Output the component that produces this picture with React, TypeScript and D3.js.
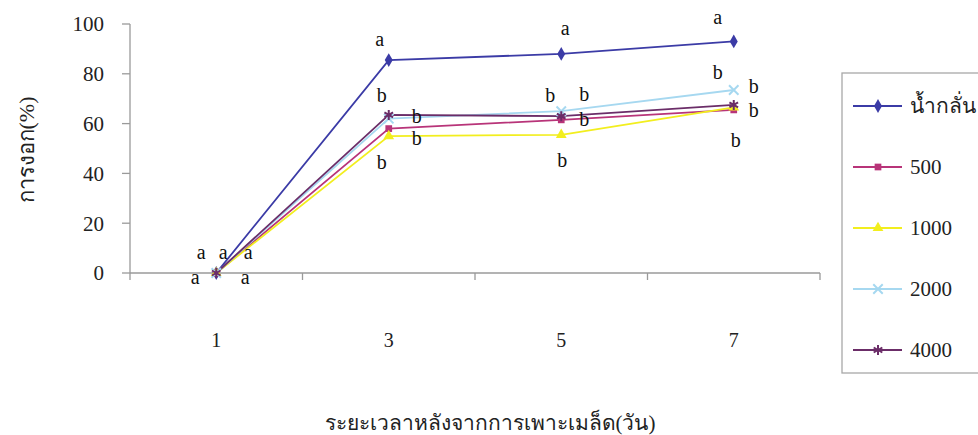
import React from "react";
import * as d3 from "d3";

const days = ["1", "3", "5", "7"];
const seriesNames = ["น้ำกลั่น", "500", "1000", "2000", "4000"];
const water = [0, 85.5, 88, 93];
const c500 = [0, 58, 61.5, 65.5];
const c1000 = [0, 55, 55.5, 66.5];
const c2000 = [0, 62, 65, 73.5];
const c4000 = [0, 63.5, 63, 67.5];
const seriesValues = [water, c500, c1000, c2000, c4000];
const yTicks = [0, 20, 40, 60, 80, 100];
// significance letters per series per day
const lettersWater = ["a", "a", "a", "a"];
const letters500 = ["a", "b", "b", "b"];
const letters1000 = ["a", "b", "b", "b"];
const letters2000 = ["a", "b", "b", "b"];
const letters4000 = ["a", "b", "b", "b"];
const seriesLetters = [lettersWater, letters500, letters1000, letters2000, letters4000];
const yTitle = "การงอก(%)";
const xTitle = "ระยะเวลาหลังจากการเพาะเมล็ด(วัน)";

// layout (offsets of letters from their points)
const letterOffsets: [number, number][][] = [
  [[-15, -21], [-9, -21], [4, -26], [-16, -24]],
  [[7, -21], [28, 9], [23, -1], [20, 0]],
  [[-21, 4], [-7, 26], [1, 25], [2, 33]],
  [[32, -21], [-7, -24], [-11, -16], [-16, -18]],
  [[29, 4], [28, 1], [23, -22], [20, -19]],
];
const colors = ["#3b3ba6", "#b83479", "#f2ee1e", "#a6d8f0", "#6b2d68"];
const markers = ["diamond", "square", "triangle", "cross", "asterisk"];

const W = 978, H = 435;
const x = d3.scaleBand<string>().domain(days).range([130, 820]);
const y = d3.scaleLinear().domain([0, 100]).range([273, 24]);
const font = "Liberation Serif, Times New Roman, serif";
const tf = { fontFamily: font };

function Marker({ type, cx, cy, color }: { type: string; cx: number; cy: number; color: string }) {
  if (type === "diamond") {
    const p = d3.symbol(d3.symbolDiamond, 55)();
    return <path d={p!} transform={`translate(${cx},${cy})`} fill={color} />;
  }
  if (type === "square") {
    const p = d3.symbol(d3.symbolSquare, 45)();
    return <path d={p!} transform={`translate(${cx},${cy})`} fill={color} />;
  }
  if (type === "triangle") {
    const p = d3.symbol(d3.symbolTriangle, 50)();
    return <path d={p!} transform={`translate(${cx},${cy})`} fill={color} />;
  }
  if (type === "cross") {
    const p = d3.symbol(d3.symbolX, 60)();
    return <path d={p!} transform={`translate(${cx},${cy})`} fill="none" stroke={color} strokeWidth={2} />;
  }
  const p = d3.symbol(d3.symbolAsterisk, 70)();
  return <path d={p!} transform={`translate(${cx},${cy})`} fill="none" stroke={color} strokeWidth={2} />;
}

export default function App() {
  const line = d3
    .line<number>()
    .x((_, i) => (x(days[i]) as number) + x.bandwidth() / 2)
    .y((d) => y(d));
  const xTickPos = [...days.map((d) => x(d) as number), 820];
  return (
    <svg width={W} height={H} style={{ position: "absolute", left: 0, top: 0, background: "#fff" }}>
      {/* axes */}
      <line x1={130} x2={130} y1={y(100)} y2={y(0)} stroke="#9a9a9a" strokeWidth={1.3} />
      <line x1={130} x2={820} y1={y(0)} y2={y(0)} stroke="#9a9a9a" strokeWidth={1.3} />
      {yTicks.map((t) => (
        <g key={t}>
          <line x1={122} x2={130} y1={y(t)} y2={y(t)} stroke="#9a9a9a" strokeWidth={1.3} />
          <text x={104} y={y(t)} dy="0.35em" textAnchor="end" fontSize={21} fill="#222" style={tf}>{t}</text>
        </g>
      ))}
      {xTickPos.map((p, i) => (
        <line key={i} x1={p} x2={p} y1={y(0)} y2={y(0) + 7} stroke="#9a9a9a" strokeWidth={1.3} />
      ))}
      {days.map((d) => (
        <text key={d} x={(x(d) as number) + x.bandwidth() / 2} y={340} dy="0.35em" textAnchor="middle" fontSize={20} fill="#222" style={tf}>{d}</text>
      ))}
      <text transform={`translate(26,150) rotate(-90)`} textAnchor="middle" fontSize={22} fill="#222" dy="0.35em" style={tf}>{yTitle}</text>
      <text x={490} y={423} textAnchor="middle" fontSize={21} fill="#222" dy="0.35em" style={tf}>{xTitle}</text>

      {/* series */}
      {seriesValues.map((vals, si) => (
        <path key={si} d={line(vals)!} fill="none" stroke={colors[si]} strokeWidth={1.8} />
      ))}
      {seriesValues.map((vals, si) =>
        vals.map((v, di) => (
          <Marker key={`${si}-${di}`} type={markers[si]} cx={(x(days[di]) as number) + x.bandwidth() / 2} cy={y(v)} color={colors[si]} />
        ))
      )}
      {seriesLetters.map((ls, si) =>
        ls.map((l, di) => (
          <text
            key={`l${si}-${di}`}
            x={(x(days[di]) as number) + x.bandwidth() / 2 + letterOffsets[si][di][0]}
            y={y(seriesValues[si][di]) + letterOffsets[si][di][1]}
            dy="0.35em"
            textAnchor="middle"
            fontSize={20}
            fill="#111"
            style={tf}
          >
            {l}
          </text>
        ))
      )}

      {/* legend */}
      <rect x={842} y={73} width={150} height={300} fill="#fff" stroke="#a8a8a8" strokeWidth={1.3} />
      {seriesNames.map((n, i) => {
        const ly = 106 + i * 61;
        return (
          <g key={n}>
            <line x1={853} x2={902} y1={ly} y2={ly} stroke={colors[i]} strokeWidth={1.8} />
            <Marker type={markers[i]} cx={878} cy={ly} color={colors[i]} />
            <text x={910} y={ly} dy="0.35em" fontSize={21} fill="#222" style={tf}>{n}</text>
          </g>
        );
      })}
    </svg>
  );
}
